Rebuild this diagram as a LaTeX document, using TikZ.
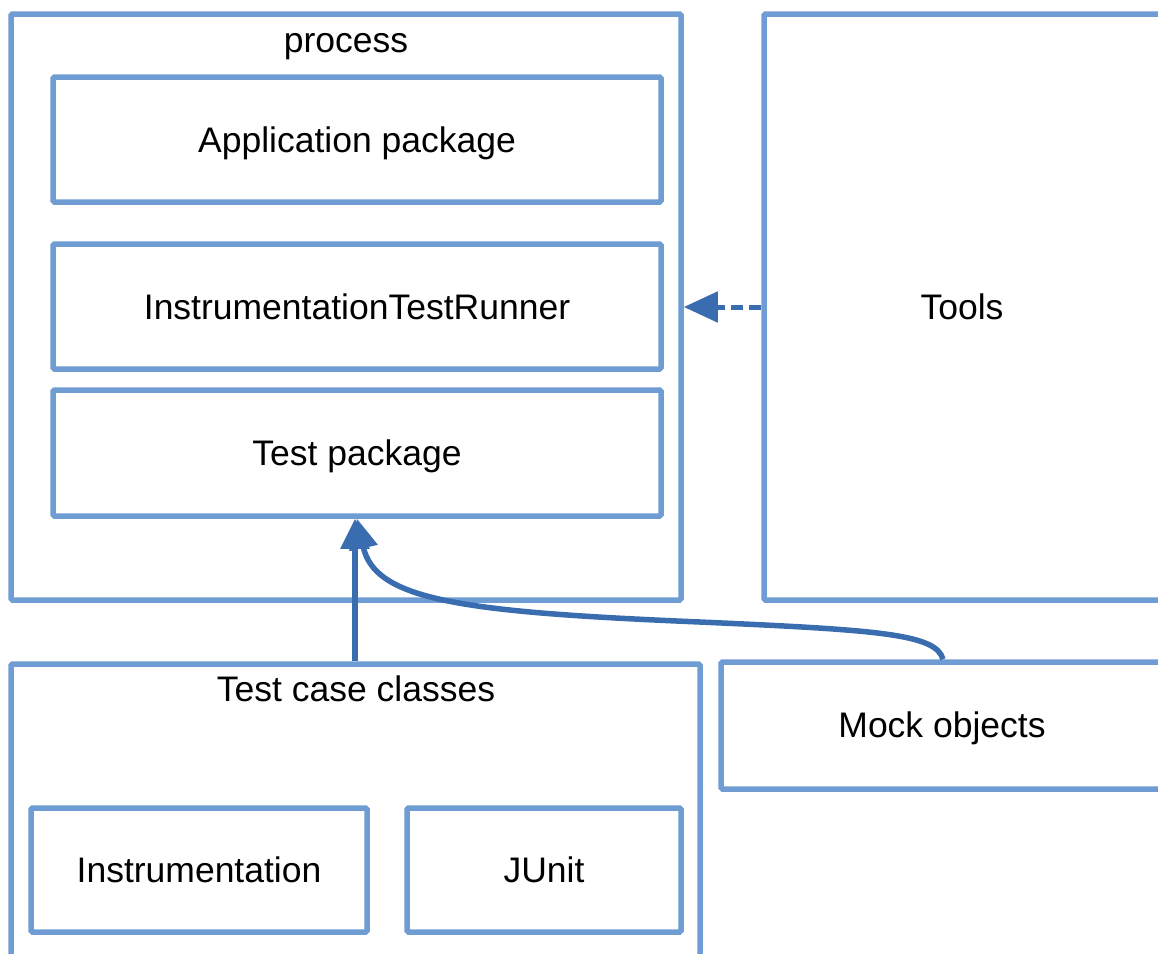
\documentclass[tikz,border=0pt]{standalone}
\usepackage{fontspec}
\setmainfont{Liberation Sans}
\usetikzlibrary{arrows.meta}
\definecolor{boxblue}{RGB}{110,156,211}
\definecolor{arrowblue}{RGB}{58,108,176}
\begin{document}
\begin{tikzpicture}[x=1pt,y=-1pt,
  txt/.style={font=\fontsize{35.5}{42}\selectfont,text height=25.9pt,text depth=0pt},
  box/.style={draw=boxblue,line width=5.5pt,rounded corners=1.5pt,inner sep=0pt,txt},
  lbl/.style={txt,inner sep=0pt},
  conn/.style={draw=arrowblue,line width=5.5pt,-{Triangle[length=30pt,width=28pt]}},
  dconn/.style={draw=arrowblue,line width=5pt,dash pattern=on 12pt off 6pt,
    -{Triangle[length=34pt,width=30pt]}}]
\useasboundingbox (0,0) rectangle (1158,953);
% process
\node[box,minimum width=670pt,minimum height=586pt] (proc) at (346,307) {};
\node[lbl] (proclbl) at (346,40) {process};
\node[box,minimum width=608pt,minimum height=125pt] (app) at (357,139.5) {Application package};
\node[box,minimum width=608pt,minimum height=125pt] (itr) at (357,306.5) {InstrumentationTestRunner};
\node[box,minimum width=608pt,minimum height=126pt] (tpk) at (357,453) {Test package};
% tools
\node[box,minimum width=420pt,minimum height=586pt] (tools) at (974,307) {};
\node[lbl] (toolslbl) at (962,307) {Tools};
% test case classes
\node[box,minimum width=689pt,minimum height=294pt] (tcc) at (355.5,811) {};
\node[lbl] (tcclbl) at (356,689) {Test case classes};
\node[box,minimum width=336pt,minimum height=124pt] (instr) at (199,870) {Instrumentation};
\node[box,minimum width=274pt,minimum height=124pt] (junit) at (544,870) {JUnit};
% mock
\node[box,minimum width=460pt,minimum height=127pt] (mock) at (951,725.5) {};
\node[lbl] (mocklbl) at (942,725) {Mock objects};
% connectors
\draw[dconn] (tools.west |- 0,307) -- (proc.east |- 0,307);
\draw[conn] (tcc.north -| 355,0) -- (tpk.south -| 355,0);
\coordinate (mid) at (700,622);
\draw[conn] (mock.north -| 943,0) .. controls (936,634) and (880,630) .. (mid)
  .. controls (460,612) and (375,600) .. (tpk.south -| 357,0);
\end{tikzpicture}
\end{document}
